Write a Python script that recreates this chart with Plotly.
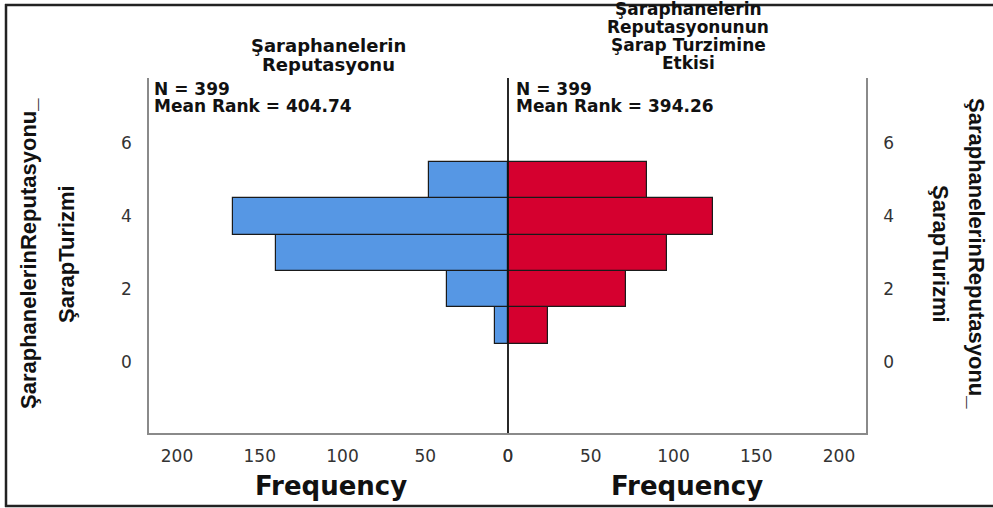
import plotly.graph_objects as go

# ---- data ----
bins = [1, 2, 3, 4, 5]
freq_reputasyon = [8, 37, 140, 166, 48]      # left (blue)
freq_etki = [24, 71, 96, 124, 84]            # right (red)
x_ticks = [0, 50, 100, 150, 200]
y_ticks = [0, 2, 4, 6]
left_title = ["Şaraphanelerin", "Reputasyonu"]
right_title = ["Şaraphanelerin", "Reputasyonunun", "Şarap Turzimine", "Etkisi"]
left_stats = ["N = 399", "Mean Rank = 404.74"]
right_stats = ["N = 399", "Mean Rank = 394.26"]
y_title_lines = ["ŞaraphanelerinReputasyonu_", "ŞarapTurizmi"]

W, H = 993, 508
L, R, T, B = 149, 127, 78, 75
PW, PH = W - L - R, H - T - B


def px(p):
    return (p - L) / PW


def py(q):
    return (H - B - q) / PH


mid = px(508)
BLUE = "#5697e4"
RED = "#d5002f"
BOLD = "DejaVu Sans"
SIDE = "Liberation Sans"

fig = go.Figure()
fig.add_trace(go.Bar(x=freq_reputasyon, y=bins, orientation="h", width=1,
                     marker=dict(color=BLUE, line=dict(color="#1a1a1a", width=1.2)),
                     xaxis="x", yaxis="y", showlegend=False))
fig.add_trace(go.Bar(x=freq_etki, y=bins, orientation="h", width=1,
                     marker=dict(color=RED, line=dict(color="#1a1a1a", width=1.2)),
                     xaxis="x2", yaxis="y2", showlegend=False))

tickfont = dict(family="DejaVu Sans", size=17, color="#333333")
ax_common = dict(showgrid=False, zeroline=False, showline=True, linecolor="#8a8a8a",
                 linewidth=1.5, ticks="outside", ticklen=7, tickcolor="rgba(0,0,0,0)",
                 tickvals=x_ticks, tickfont=tickfont, fixedrange=True)
yrange = [-1.94, 7.79]
ay_common = dict(showgrid=False, zeroline=False, showline=True, linecolor="#8a8a8a",
                 linewidth=1.5, ticks="outside", ticklen=12, tickcolor="rgba(0,0,0,0)",
                 tickvals=y_ticks, tickfont=tickfont, range=yrange, fixedrange=True)

fig.update_layout(
    width=W, height=H,
    margin=dict(l=L, r=R, t=T, b=B, pad=0),
    paper_bgcolor="white", plot_bgcolor="white",
    bargap=0,
    xaxis=dict(domain=[0, mid], range=[(508 - L) / 1.655, 0], anchor="y", **ax_common),
    xaxis2=dict(domain=[mid, 1], range=[0, (W - R - 508) / 1.655], anchor="y2", **ax_common),
    yaxis=dict(anchor="x", side="left", **ay_common),
    yaxis2=dict(anchor="x2", side="right", **ay_common),
)

# center line
fig.add_shape(type="line", xref="paper", yref="paper", x0=mid, x1=mid, y0=0, y1=1,
              line=dict(color="#111111", width=1.8), layer="above")

# outer frame (top, left, bottom)
frame = dict(color="#222222", width=2.5)
fig.add_shape(type="line", xref="paper", yref="paper", x0=px(5), x1=px(W + 2), y0=py(5), y1=py(5), line=frame)
fig.add_shape(type="line", xref="paper", yref="paper", x0=px(6), x1=px(6), y0=py(4), y1=py(507), line=frame)
fig.add_shape(type="line", xref="paper", yref="paper", x0=px(5), x1=px(W + 2), y0=py(506), y1=py(506), line=frame)

ann = []
# panel titles
for i, t in enumerate(left_title):
    ann.append(dict(text=t, x=px(328), y=py([46, 64][i]), xref="paper", yref="paper",
                    xanchor="center", yanchor="middle", showarrow=False,
                    font=dict(family=BOLD, size=18, weight="bold", color="#111111")))
for i, t in enumerate(right_title):
    ann.append(dict(text=t, x=px(688), y=py([9, 27, 45, 63][i]), xref="paper", yref="paper",
                    xanchor="center", yanchor="middle", showarrow=False,
                    font=dict(family=BOLD, size=17, weight="bold", color="#111111")))
# stats
for xs, stats in ((152, left_stats), (514, right_stats)):
    for i, t in enumerate(stats):
        ann.append(dict(text=t, x=px(xs), y=py([89, 106][i]), xref="paper", yref="paper",
                        xanchor="left", yanchor="middle", showarrow=False,
                        font=dict(family=BOLD, size=17, weight="bold", color="#111111")))
# axis titles
for xc in (331, 687):
    ann.append(dict(text="Frequency", x=px(xc), y=py(486), xref="paper", yref="paper",
                    xanchor="center", yanchor="middle", showarrow=False,
                    font=dict(family=BOLD, size=26, weight="bold", color="#111111")))
# rotated side titles, one annotation per line
for xc, t in zip((28, 66), y_title_lines):
    ann.append(dict(text=t, x=px(xc), y=py(254), xref="paper", yref="paper",
                    xanchor="center", yanchor="middle", showarrow=False, textangle=-90,
                    font=dict(family=SIDE, size=22, weight="bold", color="#111111")))
for xc, t in zip((977, 941), y_title_lines):
    ann.append(dict(text=t, x=px(xc), y=py(254), xref="paper", yref="paper",
                    xanchor="center", yanchor="middle", showarrow=False, textangle=90,
                    font=dict(family=SIDE, size=22, weight="bold", color="#111111")))
fig.update_layout(annotations=ann)

fig.write_html("out.html", config={"displayModeBar": False},
               post_script="document.body.style.margin='0';")
